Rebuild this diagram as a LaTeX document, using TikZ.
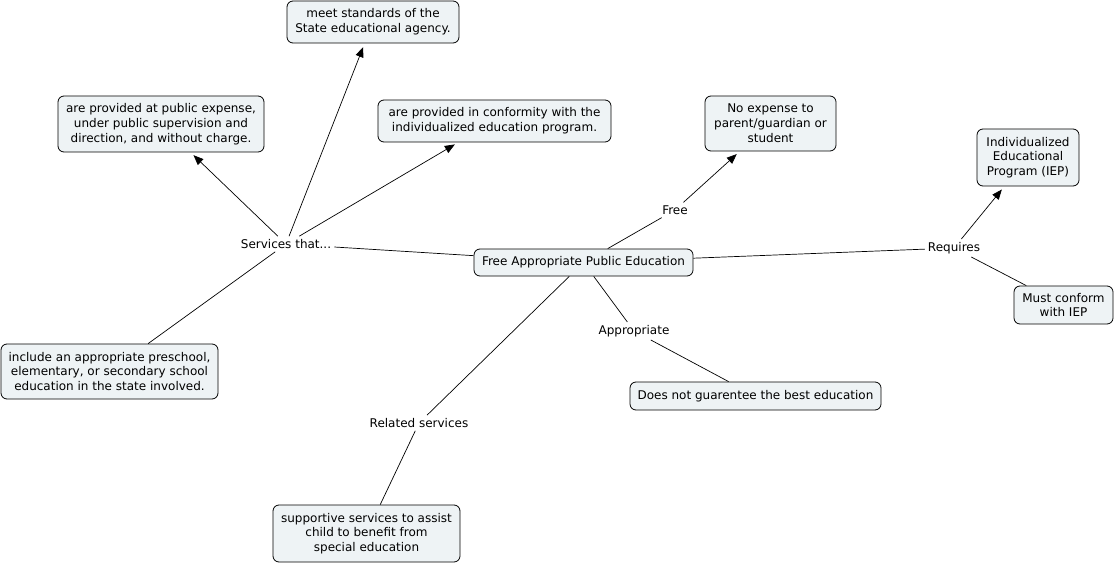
\documentclass[tikz,border=0pt]{standalone}
\usepackage{fontspec}
\setmainfont{DejaVu Sans}
\usetikzlibrary{arrows.meta}
\definecolor{boxfill}{RGB}{238,243,245}
\begin{document}
\begin{tikzpicture}[x=1pt,y=-1pt,
  every node/.style={font=\fontsize{12}{14.8}\selectfont},
  box/.style={draw, rounded corners=6pt, fill=boxfill, align=center, inner sep=2pt, line width=0.8pt},
  lbl/.style={inner sep=3pt, align=center},
  link/.style={line width=0.7pt},
  arr/.style={link, -{Triangle[length=10pt,width=8pt]}, shorten >=4pt}]
\useasboundingbox (0,0) rectangle (1115,564);
% boxes
\node[box, minimum width=172pt, minimum height=42pt] (meet) at (373,22) {meet standards of the\\State educational agency.};
\node[box, minimum width=206pt, minimum height=56pt] (expense) at (161,124) {are provided at public expense,\\under public supervision and\\direction, and without charge.};
\node[box, minimum width=233pt, minimum height=42pt] (conform) at (494.5,121) {are provided in conformity with the\\individualized education program.};
\node[box, minimum width=131pt, minimum height=55pt] (noexp) at (770.5,123.5) {No expense to\\parent/guardian or\\student};
\node[box, minimum width=102pt, minimum height=57pt] (iep) at (1028,157.5) {Individualized\\Educational\\Program (IEP)};
\node[box, minimum width=219pt, minimum height=27pt] (fape) at (583.5,262.5) {Free Appropriate Public Education};
\node[box, minimum width=99pt, minimum height=38pt] (must) at (1063.5,305) {Must conform\\with IEP};
\node[box, minimum width=217pt, minimum height=55pt] (incl) at (109.5,371.5) {include an appropriate preschool,\\elementary, or secondary school\\education in the state involved.};
\node[box, minimum width=251pt, minimum height=28pt] (best) at (755.5,396) {Does not guarentee the best education};
\node[box, minimum width=187pt, minimum height=57pt] (supp) at (366.5,533.5) {supportive services to assist\\child to benefit from\\special education};
% labels
\node[lbl] (serv) at (286,244) {Services that...};
\node[lbl] (free) at (675,210) {Free};
\node[lbl] (req) at (954,248) {Requires};
\node[lbl] (appr) at (634,331) {Appropriate};
\node[lbl] (rel) at (419,423) {Related services};
% connectors
\draw[link] (fape) -- (serv);
\draw[arr] (serv) -- (meet);
\draw[arr] (serv) -- (expense);
\draw[arr] (serv) -- (conform);
\draw[link] (serv) -- (incl);
\draw[link] (fape) -- (free);
\draw[arr] (free) -- (noexp);
\draw[link] (fape) -- (req);
\draw[arr] (req) -- (iep);
\draw[link] (req) -- (must);
\draw[link] (fape) -- (appr);
\draw[link] (appr) -- (best);
\draw[link] (fape) -- (rel);
\draw[link] (rel) -- (supp);
\end{tikzpicture}
\end{document}
